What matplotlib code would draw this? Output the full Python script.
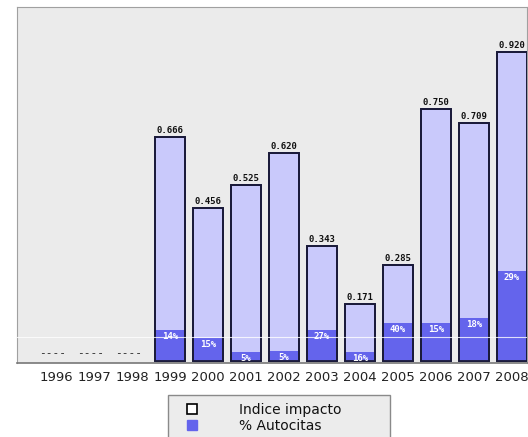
import matplotlib
matplotlib.use("Agg")
import matplotlib.pyplot as plt
from matplotlib.lines import Line2D
from matplotlib.patches import Rectangle

years = ["1996", "1997", "1998", "1999", "2000", "2001", "2002", "2003",
         "2004", "2005", "2006", "2007", "2008"]
impact = [None, None, None, 0.666, 0.456, 0.525, 0.620, 0.343,
          0.171, 0.285, 0.750, 0.709, 0.920]
autocitas_pct = [None, None, None, 14, 15, 5, 5, 27, 16, 40, 15, 18, 29]

W, H = 528, 437
fig = plt.figure(figsize=(W / 100, H / 100), dpi=100)
fig.patch.set_facecolor("white")

ax_l, ax_r, ax_t, ax_b = 17, 527, 7, 363
ax = fig.add_axes([ax_l / W, 1 - ax_b / H, (ax_r - ax_l) / W, (ax_b - ax_t) / H])
ax.set_facecolor("#ebebeb")

light = "#c9c9fb"
dark = "#6464ec"
edge = "#1a1a3a"
bw = 0.78

for i, (v, p) in enumerate(zip(impact, autocitas_pct)):
    if v is None:
        ax.text(i - 0.1, 0.024, "----", ha="center", va="center",
                fontsize=8, family="DejaVu Sans Mono", color="#222222")
        continue
    ax.bar(i, v, width=bw, color=light, edgecolor=edge, linewidth=1.3, zorder=2)
    d = v * p / 100.0
    ax.bar(i, d, width=bw - 0.04, color=dark, linewidth=0, zorder=3)
    ax.bar(i, v, width=bw, color="none", edgecolor=edge, linewidth=1.3, zorder=4)
    ax.text(i, v + 0.006, f"{v:.3f}", ha="center", va="bottom",
            fontsize=6.5, family="DejaVu Sans Mono", fontweight="bold",
            color="#111111", zorder=5)
    ax.text(i, d - 0.006, f"{p}%", ha="center", va="top",
            fontsize=6.5, family="DejaVu Sans Mono", fontweight="bold",
            color="white", zorder=5)

ax.axhline(0.071, color="white", linewidth=0.8, alpha=0.8, zorder=6)

ax.set_xlim((ax_l - 56) / 38, (ax_r - 56) / 38)
ax.set_ylim(-(ax_b - 361) / 336, (361 - ax_t) / 336)
ax.set_xticks(range(len(years)))
ax.set_xticklabels(years, fontsize=9.5, color="#222222")
ax.tick_params(axis="x", length=0, pad=6)
ax.set_yticks([])
for s in ["top", "left", "right"]:
    ax.spines[s].set_color("#a0a0a0")
    ax.spines[s].set_linewidth(0.8)
ax.spines["bottom"].set_color("#777777")
ax.spines["bottom"].set_linewidth(1.2)

# legend frame
fig.patches.append(Rectangle((168 / W, 0 - 0.01), (390 - 168) / W, (437 - 395) / H + 0.01,
                             transform=fig.transFigure, facecolor="#ececec",
                             edgecolor="#8a8a8a", linewidth=1.0, zorder=1))
handles = [
    Line2D([], [], marker="s", linestyle="none", markersize=6.5,
           markerfacecolor="white", markeredgecolor="black", markeredgewidth=1.2),
    Line2D([], [], marker="s", linestyle="none", markersize=6.5,
           markerfacecolor=dark, markeredgecolor=dark),
]
leg = fig.legend(handles, ["Indice impacto", "% Autocitas"],
                 loc="upper left", bbox_to_anchor=(178 / W, 1 - 396 / H),
                 frameon=False, fontsize=10, handlelength=1.0,
                 handletextpad=2.9, labelspacing=0.15, borderpad=0.0)
for t in leg.get_texts():
    t.set_color("#111111")

fig.savefig("out.png", dpi=100)
